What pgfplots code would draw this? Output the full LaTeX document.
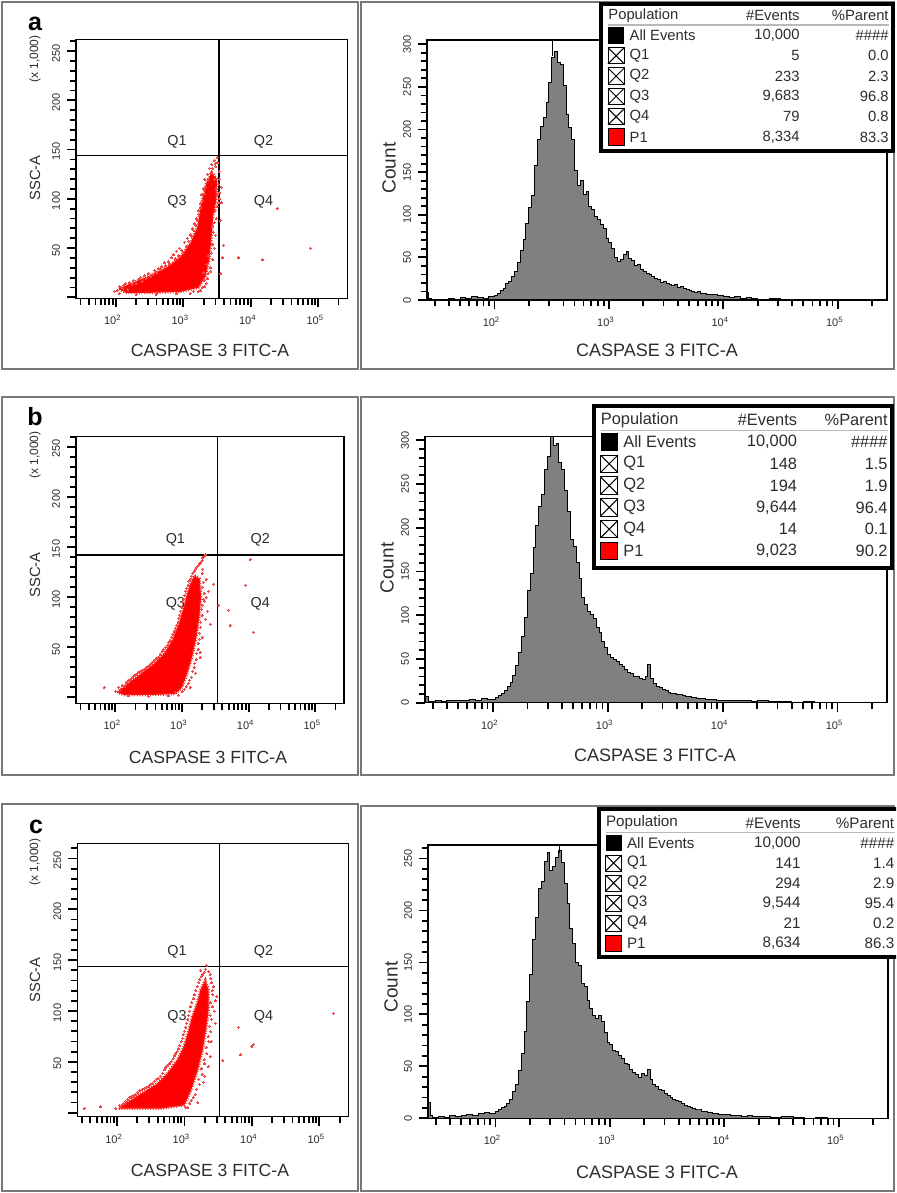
\documentclass[border=0pt]{standalone}
\usepackage{fontspec}
\setmainfont{Liberation Sans}
\usepackage{pgfplots}
\usepackage{pgfplotstable}
\pgfplotsset{compat=1.18}

\definecolor{histfill}{RGB}{128,128,128}
\definecolor{framegray}{RGB}{120,120,120}
\definecolor{ink}{RGB}{45,45,45}
\definecolor{halo}{RGB}{240,70,70}

\newcommand{\fsz}[1]{\fontsize{#1}{#1}\selectfont}

% histograms: log10(CASPASE 3 FITC-A)  count
\pgfplotstableread{
lx c
1.41 9
1.42 2
1.45 0
1.50 1
1.55 0
1.60 2
1.65 1
1.70 3
1.75 2
1.80 4
1.85 3
1.90 2
1.95 4
2.000 5
2.025 8
2.050 11
2.075 14
2.100 19
2.125 22
2.150 28
2.175 33
2.200 44
2.225 58
2.250 71
2.275 90
2.300 108
2.325 122
2.350 158
2.375 188
2.400 204
2.425 214
2.450 232
2.475 255
2.500 284
2.525 291
2.550 279
2.575 276
2.600 252
2.625 218
2.650 202
2.675 188
2.700 152
2.725 134
2.750 140
2.775 124
2.800 127
2.825 110
2.850 106
2.875 98
2.900 94
2.925 88
2.950 84
2.975 72
3.000 67
3.025 60
3.050 50
3.075 45
3.100 48
3.125 53
3.150 57
3.175 49
3.200 46
3.225 41
3.250 42
3.275 36
3.300 34
3.325 31
3.350 30
3.375 27
3.400 25
3.425 24
3.450 21
3.475 22
3.500 19
3.525 18
3.550 17
3.575 18
3.600 15
3.625 16
3.650 13
3.675 12
3.700 11
3.725 10
3.750 9
3.775 10
3.800 8
3.85 7
3.90 6
3.95 5
4.00 4
4.05 3
4.10 4
4.15 2
4.20 3
4.25 2
4.30 1
4.40 2
4.50 1
4.60 0
4.70 1
4.80 0
5.43 0
}\histA

\pgfplotstableread{
lx c
1.41 7
1.44 1
1.50 2
1.55 1
1.60 2
1.65 3
1.70 2
1.75 3
1.80 4
1.85 3
1.90 5
1.95 4
2.000 4
2.025 6
2.050 8
2.075 10
2.100 14
2.125 19
2.150 23
2.175 31
2.200 43
2.225 57
2.250 76
2.275 97
2.300 128
2.325 148
2.350 177
2.375 203
2.400 224
2.425 238
2.450 266
2.475 281
2.500 304
2.525 294
2.550 296
2.575 275
2.600 266
2.625 242
2.650 218
2.675 186
2.700 178
2.725 160
2.750 142
2.775 120
2.800 112
2.825 104
2.850 101
2.875 96
2.900 86
2.925 80
2.950 70
2.975 63
3.000 55
3.025 52
3.050 49
3.075 47
3.100 44
3.125 41
3.150 38
3.175 35
3.200 33
3.225 30
3.250 30
3.275 28
3.300 26
3.325 30
3.350 44
3.375 28
3.400 22
3.425 19
3.450 17
3.475 15
3.500 14
3.525 12
3.550 11
3.575 10
3.600 9
3.625 9
3.650 8
3.675 7
3.700 7
3.725 6
3.750 6
3.775 5
3.800 5
3.85 4
3.90 4
3.95 3
4.00 3
4.05 2
4.10 3
4.15 2
4.20 2
4.25 1
4.30 2
4.40 1
4.50 1
4.60 0
4.70 1
4.80 0
5.43 0
}\histB

\pgfplotstableread{
lx c
1.41 15
1.43 3
1.45 1
1.50 2
1.55 1
1.60 3
1.65 2
1.70 3
1.75 4
1.80 3
1.85 5
1.90 6
1.95 5
2.000 7
2.025 8
2.050 10
2.075 11
2.100 14
2.125 18
2.150 26
2.175 33
2.200 46
2.225 62
2.250 84
2.275 112
2.300 138
2.325 172
2.350 193
2.375 221
2.400 228
2.425 247
2.450 256
2.475 238
2.500 242
2.525 251
2.550 258
2.575 246
2.600 226
2.625 207
2.650 183
2.675 168
2.700 150
2.725 147
2.750 130
2.775 127
2.800 113
2.825 106
2.850 99
2.875 96
2.900 99
2.925 93
2.950 83
2.975 73
3.000 71
3.025 65
3.050 64
3.075 60
3.100 58
3.125 53
3.150 52
3.175 47
3.200 44
3.225 42
3.250 39
3.275 43
3.300 41
3.325 47
3.350 37
3.375 33
3.400 31
3.425 28
3.450 27
3.475 24
3.500 22
3.525 20
3.550 18
3.575 17
3.600 16
3.625 14
3.650 12
3.675 11
3.700 10
3.725 9
3.750 8
3.775 8
3.800 7
3.85 6
3.90 5
3.95 4
4.00 4
4.05 3
4.10 3
4.15 2
4.20 3
4.25 2
4.30 2
4.40 1
4.50 2
4.60 1
4.70 0
4.80 1
4.90 0
5.43 0
}\histC

\pgfplotsset{
  facsbase/.style={
    scale only axis, anchor=north west,
    xmin=1.41, xmax=5.43,
    axis line style={black, line width=0.7pt},
    tick align=outside, tick pos=left,
    major tick length=4.5pt, minor tick length=3.2pt,
    tick style={black, line width=0.9pt},
    xtick={2,3,4,5},
    xticklabels={10\textsuperscript{2},10\textsuperscript{3},10\textsuperscript{4},10\textsuperscript{5}},
    minor xtick={1.477,1.602,1.699,1.778,1.845,1.903,1.954,
                 2.301,2.477,2.602,2.699,2.778,2.845,2.903,2.954,
                 3.301,3.477,3.602,3.699,3.778,3.845,3.903,3.954,
                 4.301,4.477,4.602,4.699,4.778,4.845,4.903,4.954,5.301},
    xticklabel style={font=\fsz{5.5}, color=ink, xshift=-1.5pt, yshift=-0.5pt},
    yticklabel style={font=\fsz{5.5}, color=ink, rotate=90, anchor=south},
    axis on top,
  },
  dotplot/.style={facsbase,
    ytick={0,50,...,250}, yticklabels={,50,100,150,200,250},
    minor ytick={10,20,...,260},
    yticklabel style={xshift=-1pt}},
  histplot/.style={facsbase, ymin=0, minor ytick={10,20,...,300}},
  dotsred/.style={only marks, mark=*, mark size=0.5pt, color=halo,
    mark options={fill=halo, draw=halo, line width=0pt}},
  corered/.style={fill=red, draw=red!85, line width=1.3pt, dash pattern=on 0.5pt off 0.8pt},
  gateline/.style={black, line width=0.6pt},
  histbars/.style={const plot, fill=histfill, draw=black, line width=0.5pt},
}
\tikzset{qlab/.style={font=\fsz{7.2}, color=ink}}

% icons of the population table
\newcommand{\icK}{\fill[black] (8,{\yy-\sz/2}) rectangle ++(\sz,\sz);}
\newcommand{\icX}{\draw[black, line width=0.5pt, fill=white] (8,{\yy-\sz/2}) rectangle ++(\sz,\sz);
  \draw[black, line width=0.5pt] (8,{\yy-\sz/2}) -- ++(\sz,\sz) (8,{\yy+\sz/2}) -- ++(\sz,-\sz);}
\newcommand{\icR}{\draw[black, line width=0.5pt, fill=red] (8,{\yy-\sz/2}) rectangle ++(\sz,\sz);}

% #1 x0, #2 y0, #3 width, #4 height, #5 first row, #6 row step, #7 font size, #8 events column, #9 rows
\newcommand{\poptable}[9]{%
  \begin{scope}[shift={(#1,#2)}]
    \fill[white] (0,0) rectangle (#3,#4);
    \draw[black, line width=2pt] (1,1) rectangle ({#3-1},{#4-1});
    \node[anchor=west, font=\fsz{#7}, color=ink, inner sep=0] at (8,{#5-#6}) {Population};
    \node[anchor=east, font=\fsz{#7}, color=ink, inner sep=0] at (#8,{#5-#6}) {\#Events};
    \node[anchor=east, font=\fsz{#7}, color=ink, inner sep=0] at ({#3-5},{#5-#6}) {\%Parent};
    \draw[gray!55, line width=0.6pt] (8,{#5-0.52*#6}) -- ({#3-5},{#5-0.52*#6});
    \pgfmathsetmacro\sz{0.8*#6}
    \foreach \ic/\lab/\ev/\pa [count=\i from 0] in {#9} {
      \pgfmathsetmacro\yy{#5+\i*#6}
      \ic
      \node[anchor=west, font=\fsz{#7}, color=ink, inner sep=0] at ({8+\sz+5},\yy) {\lab};
      \node[anchor=east, font=\fsz{#7}, color=ink, inner sep=0] at (#8,\yy) {\ev};
      \node[anchor=east, font=\fsz{#7}, color=ink, inner sep=0] at ({#3-5},\yy) {\pa};
    }
  \end{scope}}

\begin{document}
\begin{tikzpicture}

% page and panel frames (pixel units, origin top left)
\begin{scope}[x=0.5pt, y=-0.5pt]
  \fill[white] (0,0) rectangle (896,1193);
  \draw[framegray, line width=1pt] (2,2) rectangle (358,369);
  \draw[framegray, line width=1pt] (361,2) rectangle (894,369);
  \draw[framegray, line width=1pt] (2,397) rectangle (358,775);
  \draw[framegray, line width=1pt] (361,397) rectangle (894,775);
  \draw[framegray, line width=1pt] (2,804) rectangle (358,1191);
  \draw[framegray, line width=1pt] (361,806) rectangle (894,1191);
\end{scope}

% ---------- a: dot plot ----------
\begin{axis}[dotplot, at={(38pt,-19.65pt)}, width=135.65pt, height=129.5pt,
  ymin=-1, ymax=262]
  \addplot[corered] coordinates {(2.044,8.6)(2.177,12.7)(2.472,20.9)(2.767,31.0)
    (2.959,41.2)(3.106,55.4)(3.209,71.7)(3.25,89)(3.29,102)(3.34,116)(3.42,127)
    (3.50,120)(3.49,99)(3.445,84)(3.416,58.5)(3.386,38)(3.327,21)(3.224,9.7)
    (2.959,5.6)(2.516,4.6)(2.147,4.6)} -- cycle;
  \addplot[dotsred] coordinates {(2.02,7)(2.06,11)(2.10,9)(2.14,14)(2.20,15)(2.26,17)
    (2.30,14)(2.36,20)(2.42,22)(2.48,24)(2.52,21)(2.58,27)(2.63,29)(2.68,31)
    (2.72,35)(2.78,36)(2.82,40)(2.86,43)(2.90,47)(2.94,50)(2.98,48)(3.02,56)
    (3.06,60)(3.10,64)(3.13,70)(3.16,75)(3.19,80)(3.22,88)(3.25,95)(3.27,104)
    (3.30,110)(3.32,120)(3.36,125)(3.39,131)(3.42,135)(3.46,139)(3.50,142)
    (3.48,133)(3.53,128)(3.52,115)(3.51,104)(3.50,92)(3.47,88)(3.46,76)
    (3.45,66)(3.44,54)(3.42,45)(3.40,30)(3.37,24)(3.34,14)(3.28,10)(3.22,6)
    (3.31,17)(3.38,42)(3.43,72)(3.49,110)(3.56,112)(3.57,96)(3.55,78)
    (3.60,53)(3.55,24)(3.58,40)(1.98,6)(2.05,4)(2.3,3)(2.6,3)(2.9,3.5)(3.1,4)
    (3.82,40)(4.17,38)(4.39,90)(4.88,50)};
  \addplot[dotsred] coordinates {(2.12,12)(2.18,8)(2.24,13)(2.33,18)(2.39,16)(2.45,19)
    (2.55,23)(2.61,25)(2.66,28)(2.74,32)(2.80,34)(2.88,39)(2.93,42)(3.00,46)
    (3.04,52)(3.08,57)(3.12,62)(3.15,68)(3.18,73)(3.21,78)(3.23,84)(3.26,91)
    (3.28,98)(3.31,105)(3.33,112)(3.37,120)(3.40,126)(3.44,131)(3.47,136)
    (3.51,137)(3.54,120)(3.53,106)(3.52,96)(3.49,80)(3.48,63)(3.46,50)(3.44,38)
    (3.41,26)(3.36,19)(3.32,11)(3.26,7)(3.15,6)(3.35,33)(3.30,25)(3.46,120)(3.54,100)};
  \addplot[gateline] coordinates {(3.53,-1)(3.53,262)};
  \addplot[gateline] coordinates {(1.41,144)(5.43,144)};
  \node[qlab] at (axis cs:2.908,158) {Q1};
  \node[qlab] at (axis cs:4.188,158) {Q2};
  \node[qlab] at (axis cs:2.908,97) {Q3};
  \node[qlab] at (axis cs:4.188,97) {Q4};
\end{axis}

% ---------- a: histogram ----------
\begin{axis}[histplot, at={(213.5pt,-20pt)}, width=230pt, height=130pt,
  ymax=305, ytick={0,50,...,300}, yticklabels={0,50,100,150,200,250,300}]
  \addplot[histbars] table[x=lx, y=c] {\histA} \closedcycle;
  \addplot[black, line width=0.5pt] coordinates {(2.51,286)(2.51,305)};
\end{axis}

% ---------- b: dot plot ----------
\begin{axis}[dotplot, at={(38pt,-218.35pt)}, width=134pt, height=133.3pt,
  ymin=-6, ymax=260]
  \addplot[corered] coordinates {(2.029,5.0)(2.178,13.3)(2.378,23.3)(2.577,33.3)
    (2.727,43.3)(2.852,56.7)(2.951,73.3)(3.026,90)(3.076,103.3)(3.126,113.3)
    (3.186,121.7)(3.266,118.3)(3.286,100)(3.261,80)(3.216,60)(3.151,40)
    (3.076,23.3)(3.001,10)(2.901,3.3)(2.527,2.3)(2.128,2.3)} -- cycle;
  \addplot[dotsred] coordinates {(2.00,6)(2.05,10)(2.10,12)(2.16,15)(2.22,18)(2.28,22)
    (2.34,25)(2.40,27)(2.46,30)(2.52,33)(2.58,37)(2.64,40)(2.70,46)(2.75,50)
    (2.80,55)(2.84,60)(2.88,66)(2.92,72)(2.95,79)(2.98,86)(3.01,95)(3.04,102)
    (3.07,109)(3.10,116)(3.14,121)(3.18,126)(3.22,130)(3.26,133)(3.30,136)
    (3.33,140)(3.35,142)(3.31,128)(3.32,115)(3.33,104)(3.31,92)(3.30,82)
    (3.28,70)(3.26,58)(3.24,48)(3.21,38)(3.18,30)(3.14,20)(3.09,14)(3.04,8)
    (3.12,10)(3.20,24)(3.27,45)(3.34,96)(3.36,118)(3.38,86)(1.83,10)(3.40,106)
    (3.475,113)(3.425,73)(3.55,92)(3.70,87)(3.72,72)(3.95,112)(4.02,137)
    (4.07,65)(2.2,1.5)(2.5,1)(2.8,1.5)(2.95,2)};
  \addplot[dotsred] coordinates {(2.08,8)(2.13,11)(2.19,17)(2.25,20)(2.31,23)(2.37,26)
    (2.43,28)(2.49,31)(2.55,35)(2.61,39)(2.67,43)(2.72,48)(2.78,52)(2.82,57)
    (2.86,63)(2.90,69)(2.94,75)(2.96,82)(2.99,90)(3.02,98)(3.05,106)(3.09,112)
    (3.12,118)(3.16,124)(3.20,128)(3.24,131)(3.28,134)(3.31,139)(3.30,124)
    (3.31,110)(3.32,98)(3.29,88)(3.28,75)(3.26,64)(3.24,54)(3.22,44)(3.19,34)
    (3.16,26)(3.11,17)(3.06,11)(3.00,6)(2.90,5)(3.36,100)(3.35,78)(3.30,60)(3.27,40)};
  \addplot[gateline] coordinates {(3.535,-6)(3.535,260)};
  \addplot[gateline] coordinates {(1.41,142)(5.43,142)};
  \node[qlab] at (axis cs:2.901,156.7) {Q1};
  \node[qlab] at (axis cs:4.173,156.7) {Q2};
  \node[qlab] at (axis cs:2.901,93.3) {Q3};
  \node[qlab] at (axis cs:4.173,93.3) {Q4};
\end{axis}

% ---------- b: histogram ----------
\begin{axis}[histplot, at={(212.5pt,-218.35pt)}, width=231pt, height=133pt,
  ymax=304, ytick={0,50,...,300}, yticklabels={0,50,100,150,200,250,300}]
  \addplot[histbars] table[x=lx, y=c] {\histB} \closedcycle;
\end{axis}

% ---------- c: dot plot ----------
\begin{axis}[dotplot, at={(38.65pt,-421.65pt)}, width=135.5pt, height=136.7pt,
  ymin=-4, ymax=265]
  \addplot[corered] coordinates {(2.027,3.9)(2.199,12.2)(2.397,20.4)(2.594,28.6)
    (2.742,38.5)(2.890,51.6)(2.988,64.8)(3.062,81.3)(3.112,94.4)(3.186,107.6)
    (3.235,120.7)(3.309,130.6)(3.358,120.7)(3.358,101)(3.319,81.3)(3.27,61.5)
    (3.196,41.8)(3.097,22)(2.998,7.2)(2.643,3.9)(2.15,3.9)} -- cycle;
  \addplot[dotsred] coordinates {(1.98,4)(2.04,7)(2.10,9)(2.16,13)(2.22,16)(2.28,18)
    (2.34,22)(2.40,24)(2.46,26)(2.52,29)(2.58,33)(2.64,36)(2.70,42)(2.75,46)
    (2.80,50)(2.85,56)(2.89,60)(2.93,66)(2.97,73)(3.00,80)(3.03,88)(3.06,96)
    (3.09,104)(3.13,112)(3.17,120)(3.21,128)(3.25,134)(3.29,138)(3.24,140)
    (3.33,145)(3.38,136)(3.40,128)(3.42,116)(3.41,104)(3.40,92)(3.39,80)
    (3.36,70)(3.33,58)(3.30,48)(3.26,38)(3.22,28)(3.16,18)(3.10,12)(3.05,5)
    (3.20,10)(3.28,30)(3.35,45)(3.43,124)(3.46,110)(1.51,4)(1.755,5.6)
    (3.48,114)(3.457,88)(3.57,51)(3.80,84)(4.00,65)(4.02,67)(3.83,57)(5.21,98)};
  \addplot[dotsred] coordinates {(2.08,8)(2.13,11)(2.19,15)(2.25,17)(2.31,20)(2.37,23)
    (2.43,25)(2.49,28)(2.55,31)(2.61,34)(2.67,39)(2.72,44)(2.78,48)(2.83,53)
    (2.87,58)(2.91,63)(2.95,70)(2.98,77)(3.02,84)(3.05,92)(3.08,100)(3.11,108)
    (3.15,116)(3.19,124)(3.23,131)(3.27,136)(3.31,141)(3.36,139)(3.39,132)
    (3.41,120)(3.39,108)(3.38,96)(3.37,85)(3.35,75)(3.32,64)(3.29,52)(3.25,43)
    (3.21,33)(3.18,23)(3.13,15)(3.08,9)(3.02,5)(3.30,36)(3.40,70)(3.44,100)(3.38,55)};
  \addplot[gateline] coordinates {(3.525,-4)(3.525,265)};
  \addplot[gateline] coordinates {(1.41,144)(5.43,144)};
  \node[qlab] at (axis cs:2.89,158.6) {Q1};
  \node[qlab] at (axis cs:4.172,158.6) {Q2};
  \node[qlab] at (axis cs:2.89,94.4) {Q3};
  \node[qlab] at (axis cs:4.172,94.4) {Q4};
\end{axis}

% ---------- c: histogram ----------
\begin{axis}[histplot, at={(214pt,-422.5pt)}, width=230pt, height=136.65pt,
  ymax=263, ytick={0,50,...,250}, yticklabels={0,50,100,150,200,250}]
  \addplot[histbars] table[x=lx, y=c] {\histC} \closedcycle;
  \addplot[black, line width=0.5pt] coordinates {(2.555,255)(2.555,263)};
\end{axis}

% ---------- labels and population tables ----------
\begin{scope}[x=0.5pt, y=-0.5pt]
  \node[font=\bfseries\fsz{12.5}] at (35,24) {a};
  \node[font=\bfseries\fsz{12.5}] at (35,417) {b};
  \node[font=\bfseries\fsz{12.5}] at (36,827) {c};

  \node[rotate=90, font=\fsz{7.4}, color=ink] at (35,178) {SSC-A};
  \node[rotate=90, font=\fsz{6}, color=ink] at (35,59) {(x 1,000)};
  \node[rotate=90, font=\fsz{7.4}, color=ink] at (35,575) {SSC-A};
  \node[rotate=90, font=\fsz{6}, color=ink] at (35,455) {(x 1,000)};
  \node[rotate=90, font=\fsz{7.4}, color=ink] at (35,980) {SSC-A};
  \node[rotate=90, font=\fsz{6}, color=ink] at (35,862) {(x 1,000)};

  \node[rotate=90, font=\fsz{9.5}, color=ink] at (389,168) {Count};
  \node[rotate=90, font=\fsz{9.5}, color=ink] at (387,568) {Count};
  \node[rotate=90, font=\fsz{9.5}, color=ink] at (391,987) {Count};

  \node[font=\fsz{8.8}, color=ink] at (210,350) {CASPASE 3 FITC-A};
  \node[font=\fsz{8.8}, color=ink] at (208,757) {CASPASE 3 FITC-A};
  \node[font=\fsz{8.8}, color=ink] at (210,1170) {CASPASE 3 FITC-A};
  \node[font=\fsz{9}, color=ink] at (657,350) {CASPASE 3 FITC-A};
  \node[font=\fsz{9}, color=ink] at (655,755) {CASPASE 3 FITC-A};
  \node[font=\fsz{9}, color=ink] at (657,1172) {CASPASE 3 FITC-A};

  \poptable{600}{3}{294}{149}{32.5}{20.3}{7.4}{200}{%
    \icK/All Events/{10,000}/\#\#\#\#, \icX/Q1/5/0.0, \icX/Q2/233/2.3,
    \icX/Q3/{9,683}/96.8, \icX/Q4/79/0.8, \icR/P1/{8,334}/83.3}
  \poptable{592.5}{405}{300.5}{164}{37}{21.8}{8.2}{205}{%
    \icK/All Events/{10,000}/\#\#\#\#, \icX/Q1/148/1.5, \icX/Q2/194/1.9,
    \icX/Q3/{9,644}/96.4, \icX/Q4/14/0.1, \icR/P1/{9,023}/90.2}
  \begin{scope}
    \clip (590,800) rectangle (896,965);
    \poptable{597.6}{808}{302}{150}{35}{20}{7.6}{203.4}{%
      \icK/All Events/{10,000}/\#\#\#\#, \icX/Q1/141/1.4, \icX/Q2/294/2.9,
      \icX/Q3/{9,544}/95.4, \icX/Q4/21/0.2, \icR/P1/{8,634}/86.3}
  \end{scope}
\end{scope}
\end{tikzpicture}
\end{document}
